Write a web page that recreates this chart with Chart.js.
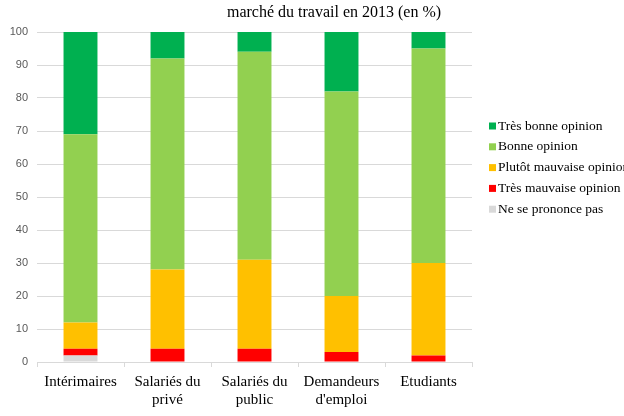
<!DOCTYPE html>
<html>
<head>
<meta charset="utf-8">
<script src="https://cdn.jsdelivr.net/npm/chart.js@4/dist/chart.umd.min.js"></script>
<style>
  html,body{margin:0;padding:0;background:#fff;overflow:hidden}
  #wrap{width:624px;height:416px}
</style>
</head>
<body>
<div id="wrap"><canvas id="chart" width="624" height="416"></canvas></div>
<script>
const categories=[['Intérimaires'],['Salariés du','privé'],['Salariés du','public'],['Demandeurs',"d'emploi"],['Etudiants']];
const nsp=[2,0,0,0,0];
const tresMauvaise=[2,4,4,3,2];
const plutotMauvaise=[8,24,27,17,28];
const bonne=[57,64,63,62,65];
const tresBonne=[31,8,6,18,5];
const yTicks=[0,10,20,30,40,50,60,70,80,90,100];
const title='marché du travail en 2013 (en %)';

const serif='"Liberation Serif","Times New Roman",serif';

// legend drawn by hand, top item = last dataset
const legendPlugin={
  id:'sideLegend',
  afterDraw(chart){
    const c=chart.ctx;
    c.save();
    c.font='13.5px '+serif;
    c.textBaseline='middle';
    const ds=chart.data.datasets.slice().reverse();
    ds.forEach((d,i)=>{
      const y=126+i*20.8;
      c.fillStyle=d.backgroundColor;
      c.fillRect(489,y-3.5,7,7);
      c.fillStyle='#000';
      c.fillText(d.label,498,y);
    });
    // title
    c.font='16px '+serif;
    c.textAlign='center';
    c.fillStyle='#000';
    c.fillText(title,334,13);
    c.restore();
  }
};

new Chart(document.getElementById('chart'),{
  type:'bar',
  data:{
    labels:categories,
    datasets:[
      {label:'Ne se prononce pas',data:nsp,backgroundColor:'#D9D9D9'},
      {label:'Très mauvaise opinion',data:tresMauvaise,backgroundColor:'#FF0000'},
      {label:'Plutôt mauvaise opinion',data:plutotMauvaise,backgroundColor:'#FFC000'},
      {label:'Bonne opinion',data:bonne,backgroundColor:'#92D050'},
      {label:'Très bonne opinion',data:tresBonne,backgroundColor:'#00B050'}
    ]
  },
  options:{
    responsive:false,
    animation:false,
    layout:{padding:{top:32,right:152,left:0,bottom:0}},
    datasets:{bar:{categoryPercentage:1,barPercentage:0.39}},
    plugins:{legend:{display:false},tooltip:{enabled:false}},
    scales:{
      x:{
        stacked:true,
        grid:{offset:true,drawOnChartArea:false,tickLength:5,color:'#d9d9d9'},
        border:{color:'#d9d9d9'},
        ticks:{font:{family:serif,size:15},color:'#000',padding:6,maxRotation:0},
        afterFit(s){s.height=54;}
      },
      y:{
        stacked:true,min:0,max:100,
        afterBuildTicks(s){s.ticks=yTicks.map(v=>({value:v}));},
        grid:{color:'#d9d9d9',drawTicks:false},
        border:{display:false},
        ticks:{font:{family:'"Liberation Sans",Arial,sans-serif',size:11},color:'#595959',padding:9},
        afterFit(s){s.width=37;}
      }
    }
  },
  plugins:[legendPlugin]
});
</script>
</body>
</html>
